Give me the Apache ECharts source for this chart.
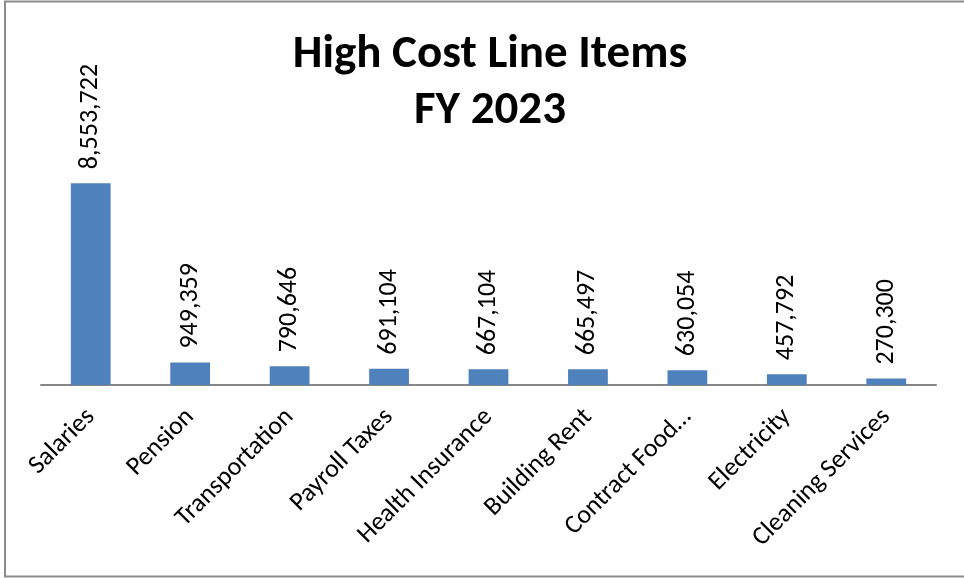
<!DOCTYPE html>
<html>
<head>
<meta charset="utf-8">
<script src="https://cdn.jsdelivr.net/npm/echarts@6/dist/echarts.min.js"></script>
<style>
  html, body { margin: 0; padding: 0; background: #fff; }
  #chart { width: 964px; height: 578px; }
</style>
</head>
<body>
<div id="chart"></div>
<script>
// Budget line items with the highest cost, fiscal year 2023
const categories = [
  'Salaries', 'Pension', 'Transportation', 'Payroll Taxes', 'Health Insurance',
  'Building Rent', 'Contract Food…', 'Electricity', 'Cleaning Services'
];
const costs = [8553722, 949359, 790646, 691104, 667104, 665497, 630054, 457792, 270300];

const FONT = 'Carlito, Lato, "Open Sans", sans-serif';

const chart = echarts.init(document.getElementById('chart'), null, { renderer: 'canvas' });

chart.setOption({
  backgroundColor: '#ffffff',
  animation: false,
  title: {
    text: 'High Cost Line Items\nFY 2023',
    left: 485,
    textAlign: 'center',
    top: 22,
    textStyle: {
      fontFamily: FONT,
      fontWeight: 'bold',
      fontSize: 47,
      lineHeight: 56,
      color: '#000'
    }
  },
  graphic: [{
    type: 'rect',
    shape: { x: 5, y: 1.5, width: 1000, height: 575 },
    style: { fill: 'none', stroke: '#8c8c8c', lineWidth: 2 },
    silent: true
  }],
  grid: { left: 41, right: 28, top: 149, bottom: 193 },
  xAxis: {
    type: 'category',
    data: categories,
    axisLine: { show: true, lineStyle: { color: '#868686', width: 2 } },
    axisTick: { show: false },
    axisLabel: {
      interval: 0,
      rotate: 45,
      margin: 28,
      fontFamily: FONT,
      fontSize: 26,
      color: '#000'
    }
  },
  yAxis: {
    type: 'value',
    min: 0,
    max: 10000000,
    show: false,
    splitLine: { show: false }
  },
  series: [{
    type: 'bar',
    data: costs,
    barWidth: '40%',
    itemStyle: { color: '#4F81BD' },
    label: {
      show: true,
      position: 'top',
      rotate: 90,
      align: 'left',
      verticalAlign: 'middle',
      distance: 14,
      fontFamily: FONT,
      fontSize: 26,
      color: '#000',
      formatter: p => p.value.toLocaleString('en-US')
    }
  }]
});
</script>
</body>
</html>
